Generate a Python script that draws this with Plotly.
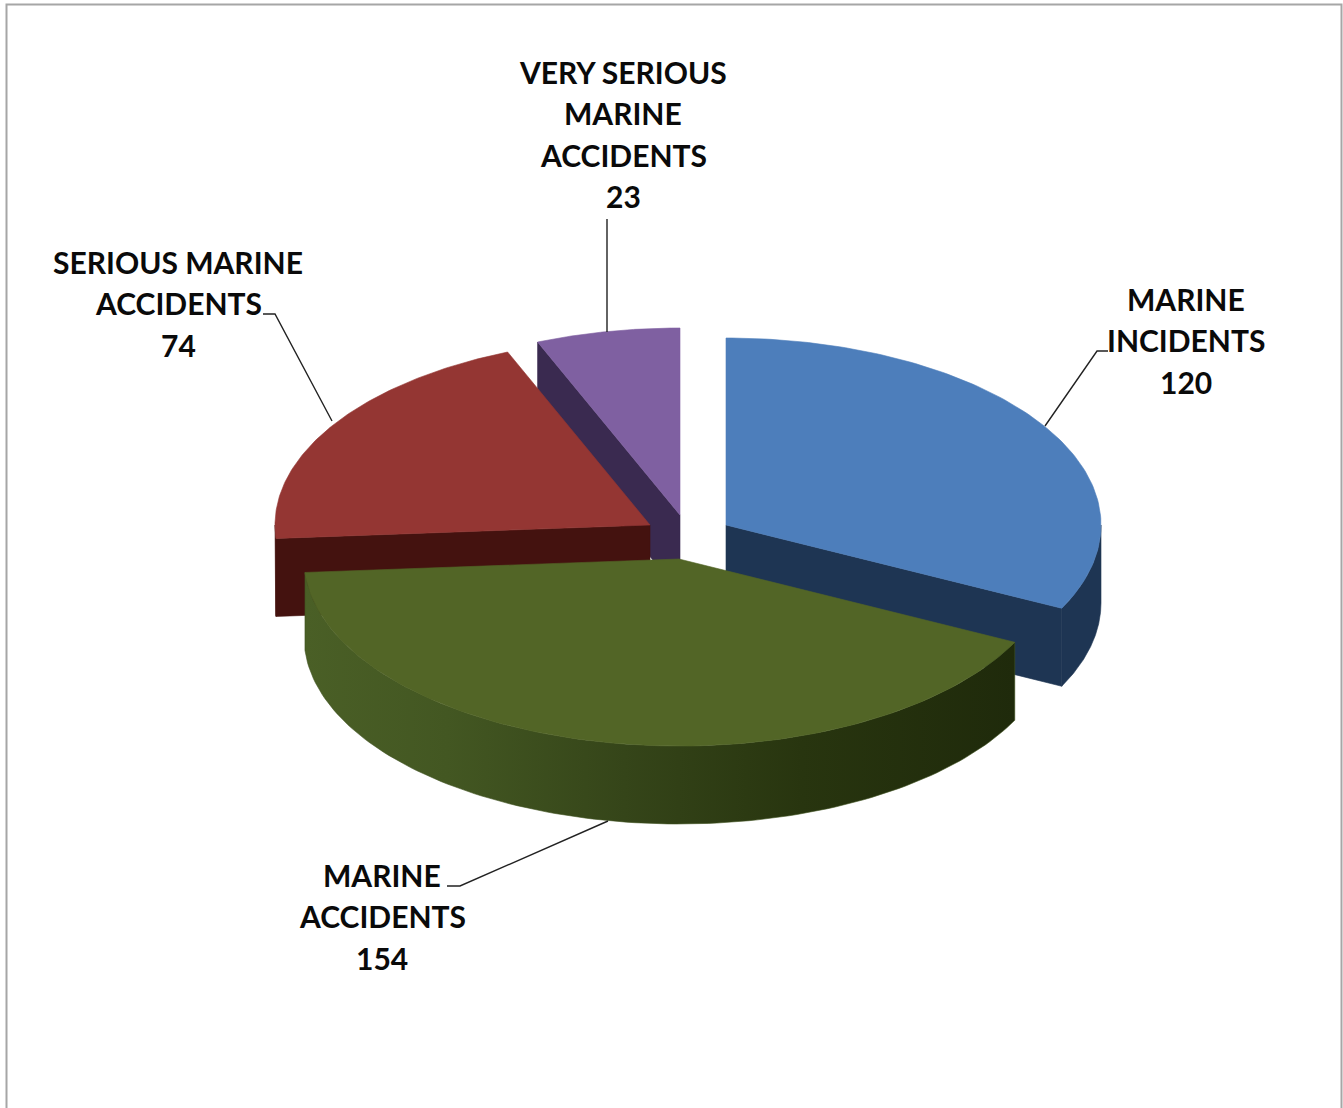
import numpy as np
import plotly.graph_objects as go

# ---- data ----
categories = ["MARINE INCIDENTS", "MARINE ACCIDENTS", "SERIOUS MARINE ACCIDENTS", "VERY SERIOUS MARINE ACCIDENTS"]
values = [120, 154, 74, 23]
label_lines = [["MARINE", "INCIDENTS"], ["MARINE", "ACCIDENTS"], ["SERIOUS MARINE", "ACCIDENTS"],
               ["VERY SERIOUS", "MARINE", "ACCIDENTS"]]

# ---- styling / layout ----
W, H = 1343, 1108
top_colors = ["#4d7ebb", "#526526", "#943633", "#7f60a1"]
cut_colors = ["#1e3553", "#232c0c", "#44120f", "#3a2a50"]
rim_colors = ["#1e3553", "#3f5220", "#44120f", "#3a2a50"]
cut_side = ["end", None, "start", "start"]   # which cut face of each slice looks at the viewer
centres = [(726, 525), (679, 559), (650, 525), (680, 515)]
RX, RY, DEPTH = 375, 187, 78
label_x = [1186, 382, 178, 623]
label_y0 = [299, 875, 262, 72]
line_gap = 41.4
leaders = [([1045, 1097, 1108], [426, 351, 351]),
           ([608, 460, 447], [821, 886, 886]),
           ([332, 275, 263], [421, 314, 314]),
           ([607, 607], [332, 219])]
font = dict(family="Lato, Carlito, Open Sans, sans-serif", size=30, color="#0a0a0a")

total = sum(values)
edges = np.concatenate([[0], np.cumsum(values)]) / total * 2 * np.pi


def rim(i, a0, a1, dz=0.0, n=120):
    t = np.linspace(a0, a1, n)
    cx, cy = centres[i]
    return cx + RX * np.sin(t), cy - RY * np.cos(t) + dz


def poly(x, y, color, name, **kw):
    x, y = list(x), list(y)
    return go.Scatter(x=x + x[:1], y=y + y[:1], mode="lines", fill="toself", fillcolor=color,
                      line=dict(width=0.6, color=color), name=name, showlegend=False,
                      hoverinfo="name", **kw)


fig = go.Figure()


def add_slice(i):
    a0, a1 = edges[i], edges[i + 1]
    cx, cy = centres[i]
    name = f"{categories[i]}: {values[i]}"
    # cut face: straight wall running from the hub to the rim
    if cut_side[i]:
        a = a1 if cut_side[i] == "end" else a0
        rx, ry = rim(i, a, a, n=1)
        fig.add_trace(poly([cx, rx[0], rx[0], cx], [cy, ry[0], ry[0] + DEPTH, cy + DEPTH],
                           cut_colors[i], name))
    # outer wall: the part of the rim that faces the viewer
    lo, hi = max(a0, np.pi / 2), min(a1, 3 * np.pi / 2)
    if hi > lo:
        ux, uy = rim(i, lo, hi)
        dx, dy = rim(i, hi, lo, DEPTH)
        extra = {}
        if i == 1:
            extra = dict(fillgradient=dict(type="horizontal", colorscale=[
                [0.0, "#4a5f26"], [0.2, "#435722"], [0.45, "#354519"],
                [0.7, "#28350f"], [1.0, "#1f2a0b"]]))
        fig.add_trace(poly(np.r_[ux, dx], np.r_[uy, dy], rim_colors[i], name, **extra))
    # top face
    tx, ty = rim(i, a0, a1)
    fig.add_trace(poly(np.r_[cx, tx], np.r_[cy, ty], top_colors[i], name))


for i in (3, 2, 0, 1):
    add_slice(i)

for i, (lx, ly) in enumerate(leaders):
    fig.add_trace(go.Scatter(x=lx, y=ly, mode="lines", line=dict(color="#222222", width=1.4),
                             showlegend=False, hoverinfo="skip"))
    for k, text in enumerate(label_lines[i] + [str(values[i])]):
        fig.add_annotation(x=label_x[i], y=label_y0[i] + k * line_gap, text=f"<b>{text}</b>",
                           showarrow=False, xanchor="center", yanchor="middle", font=font)

fig.add_shape(type="path", path=f"M 6.5 {H} L 6.5 4.5 L 1341.5 4.5 L 1341.5 {H}",
              line=dict(color="#a6a6a6", width=2), layer="below")

fig.update_xaxes(visible=False, range=[0, W], fixedrange=True)
fig.update_yaxes(visible=False, range=[H, 0], fixedrange=True)
fig.update_layout(width=W, height=H, margin=dict(l=0, r=0, t=0, b=0), paper_bgcolor="white",
                  plot_bgcolor="white", showlegend=False)
fig.write_html("out.html", config={"displayModeBar": False},
               post_script="document.body.style.margin='0';document.documentElement.style.overflow='hidden';")
